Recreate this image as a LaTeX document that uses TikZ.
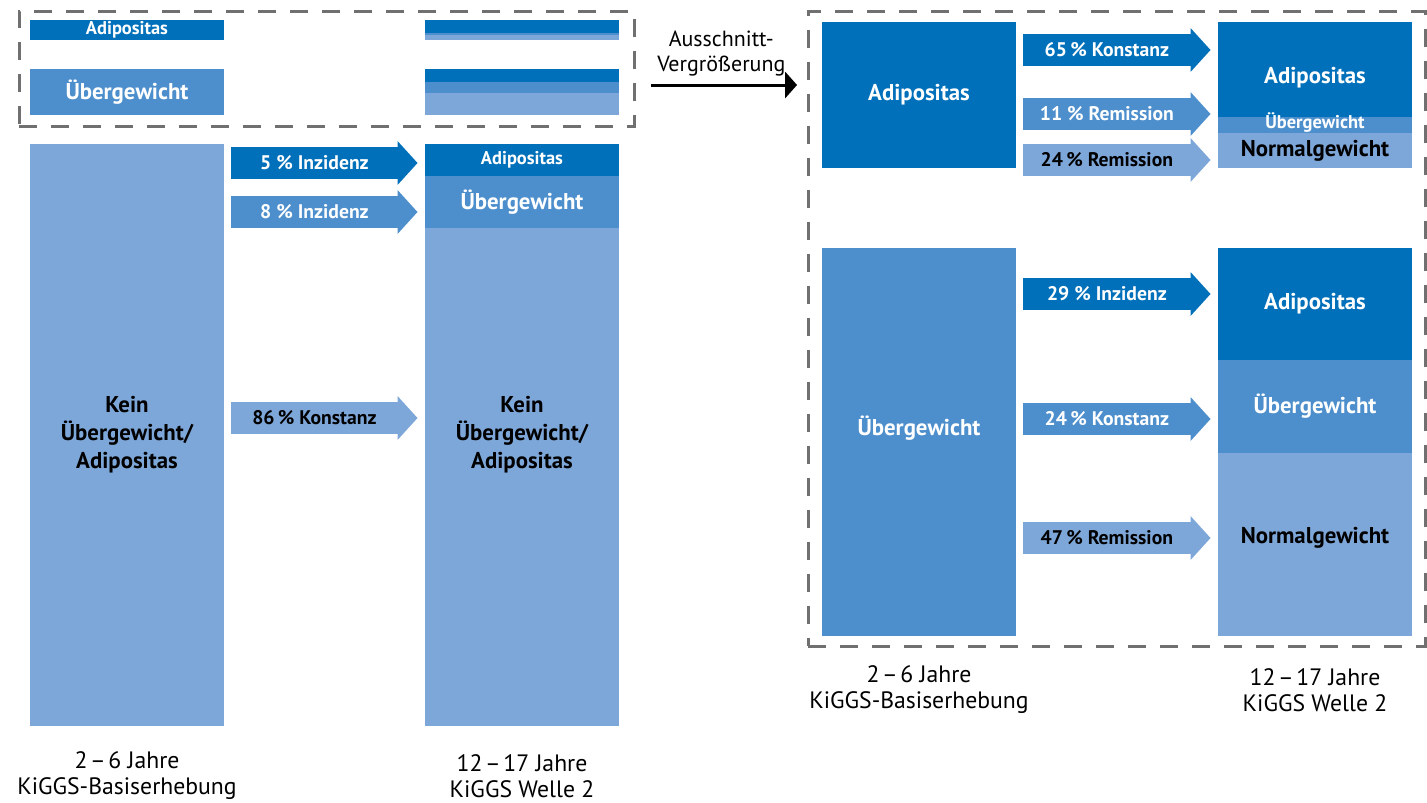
\documentclass[tikz,border=0pt]{standalone}
\usepackage{fontspec}
\setmainfont{PT Sans}
\usepackage{tikz}
\usetikzlibrary{arrows.meta}
\usetikzlibrary{positioning}
\definecolor{rkidunkel}{RGB}{0,112,186}
\definecolor{rkimittel}{RGB}{77,143,204}
\definecolor{rkihell}{RGB}{126,167,217}
\definecolor{rahmengrau}{RGB}{112,112,112}
\newcommand{\spaltea}{30}
\newcommand{\spalteb}{425}
\newcommand{\spaltec}{822}
\newcommand{\spalted}{1218}
\newcommand{\balkenw}{3.88cm}
\newcommand{\grossfont}{\bfseries\fontsize{13}{15.9}\selectfont}
\newcommand{\kleinfont}{\bfseries\fontsize{10.5}{12}\selectfont}
\newcommand{\pfeilfont}{\bfseries\fontsize{11.2}{13}\selectfont}
\newcommand{\fussfont}{\fontsize{13.5}{14.8}\selectfont}
\newcommand{\lupefont}{\fontsize{12.5}{13.8}\selectfont}
\tikzset{
  balken/.style={rectangle, inner sep=0pt, outer sep=0pt, anchor=north west,
    minimum width=\balkenw, align=center, font=\grossfont},
  dunkel/.style={fill=rkidunkel, text=white},
  mittel/.style={fill=rkimittel, text=white},
  hell/.style={fill=rkihell, text=black},
  fluss/.style={line width=0.64cm, shorten <=0.15cm, shorten >=0.15cm,
    -{Triangle[length=0.4cm, width=0.88cm, line width=0pt]}},
  pfeiltext/.style={pos=0.45, font=\pfeilfont, text=white},
  lupe/.style={draw=rahmengrau, line width=0.055cm,
    dash pattern=on 0.36cm off 0.28cm, anchor=north west, inner sep=0pt},
  zoompfeil/.style={line width=0.06cm, shorten <=0.3cm, shorten >=0.2cm,
    -{Triangle[length=0.24cm, width=0.54cm, line width=0pt]}},
  fuss/.style={align=center, font=\fussfont}
}
\begin{document}
\begin{tikzpicture}[x=0.02cm,y=-0.02cm]
    \useasboundingbox (0,0) rectangle (1427,802);

    \node (lupeA) at (18,10) [lupe, minimum width=12.3cm, minimum height=2.3cm] {};
    \node (lupeB) at (807,10) [lupe, minimum width=12.34cm, minimum height=12.7cm] {};

    \node (adiA) at (\spaltea,20) [balken, dunkel, minimum height=0.4cm, font=\kleinfont] {Adipositas};
    \node (ueA) at (\spaltea,69) [balken, mittel, minimum height=0.92cm] {Übergewicht};
    \node (adiAa) at (\spalteb,20) [balken, dunkel, minimum height=0.26cm] {};
    \node (adiAb) [balken, mittel, minimum height=0.044cm, below=0pt of adiAa] {};
    \node (adiAc) [balken, hell, minimum height=0.096cm, below=0pt of adiAb] {};
    \node (ueAa) at (\spalteb,69) [balken, dunkel, minimum height=0.266cm] {};
    \node (ueAb) [balken, mittel, minimum height=0.221cm, below=0pt of ueAa] {};
    \node (ueAc) [balken, hell, minimum height=0.433cm, below=0pt of ueAb] {};

    \node (kein) at (\spaltea,144) [balken, hell, minimum height=11.64cm] {Kein\\Übergewicht/\\Adipositas};
    \node (adiB) at (\spalteb,144) [balken, dunkel, minimum height=0.64cm, font=\kleinfont] {Adipositas};
    \node (ueB) [balken, mittel, minimum height=1.04cm, below=0pt of adiB] {Übergewicht};
    \node (keinB) [balken, hell, minimum height=9.96cm, below=0pt of ueB] {};
    \node (keinBtext) at (kein.center -| keinB.center) [align=center, font=\grossfont] {Kein\\Übergewicht/\\Adipositas};

    \draw[fluss, rkidunkel] (kein.east |- 0,163) -- (adiB.west |- 0,163)
      node[pfeiltext] (inzA) {5 \% Inzidenz};
    \draw[fluss, rkimittel] (kein.east |- 0,212) -- (ueB.west |- 0,212)
      node[pfeiltext] (inzB) {8 \% Inzidenz};
    \draw[fluss, rkihell] (kein.east |- 0,418) -- (keinB.west |- 0,418)
      node[pfeiltext, text=black] (konstB) {86\,\% Konstanz};

    \node (jahreA) at (kein.south |- 0,776) [fuss] {2\kern1.5pt–\kern1.5pt6 Jahre\\KiGGS-Basiserhebung};
    \node (welleA) at (keinB.south |- 0,776) [fuss] {12\kern1.5pt–\kern1.5pt17 Jahre\\KiGGS Welle 2};

    \draw[zoompfeil] (lupeA.east |- 0,85) -- (lupeB.west |- 0,85)
      node[midway, above=1pt, align=center, font=\lupefont] (lupetext) {Ausschnitt-\\Vergrößerung};

    \node (adiC) at (\spaltec,22) [balken, dunkel, minimum height=2.92cm] {Adipositas};
    \node (ueC) at (\spaltec,248) [balken, mittel, minimum height=7.76cm] {};
    \node (ueCtext) at ([yshift=0.28cm]ueC.center) [font=\grossfont, text=white] {Übergewicht};

    \node (adiD) at (\spalted,22) [balken, dunkel, minimum height=1.9cm] {};
    \node (adiDtext) at ([yshift=-0.17cm]adiD.center) [font=\grossfont, text=white] {Adipositas};
    \node (ueD) [balken, mittel, minimum height=0.32cm, below=0pt of adiD, font=\kleinfont,
      text height=5.5pt, text depth=1.5pt] {Übergewicht};
    \node (nrD) [balken, hell, minimum height=0.7cm, below=0pt of ueD] {Normalgewicht};
    \node (adiE) at (\spalted,248) [balken, dunkel, minimum height=2.24cm] {Adipositas};
    \node (ueE) [balken, mittel, minimum height=1.86cm, below=0pt of adiE] {Übergewicht};
    \node (nrE) [balken, hell, minimum height=3.66cm, below=0pt of ueE] {};
    \node (nrEtext) at ([yshift=0.14cm]nrE.center) [font=\grossfont] {Normalgewicht};

    \draw[fluss, rkidunkel] (adiC.east |- 0,50) -- (adiD.west |- 0,50)
      node[pfeiltext] (konstC) {65\,\% Konstanz};
    \draw[fluss, rkimittel] (adiC.east |- 0,114) -- (ueD.west |- 0,114)
      node[pfeiltext] (remC) {11 \% Remission};
    \draw[fluss, rkihell] (adiC.east |- 0,160) -- (nrD.west |- 0,160)
      node[pfeiltext, text=black] (remD) {24\,\% Remission};
    \draw[fluss, rkidunkel] (ueC.east |- 0,294) -- (adiE.west |- 0,294)
      node[pfeiltext] (inzE) {29 \% Inzidenz};
    \draw[fluss, rkimittel] (ueC.east |- 0,419) -- (ueE.west |- 0,419)
      node[pfeiltext] (konstE) {24\,\% Konstanz};
    \draw[fluss, rkihell] (ueC.east |- 0,538) -- (nrE.west |- 0,538)
      node[pfeiltext, text=black] (remE) {47\,\% Remission};

    \node (jahreC) at (ueC.south |- 0,690) [fuss] {2\kern1.5pt–\kern1.5pt6 Jahre\\KiGGS-Basiserhebung};
    \node (welleC) at (nrE.south |- 0,690) [fuss] {12\kern1.5pt–\kern1.5pt17 Jahre\\KiGGS Welle 2};
\end{tikzpicture}
\end{document}
